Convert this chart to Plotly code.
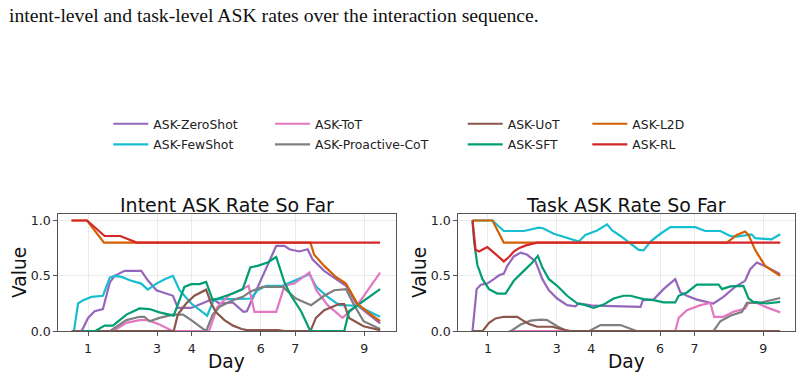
import plotly.graph_objects as go

W, H = 801, 379

# ---------------- data ----------------
names = ["ASK-ZeroShot", "ASK-FewShot", "ASK-ToT", "ASK-Proactive-CoT",
         "ASK-UoT", "ASK-SFT", "ASK-L2D", "ASK-RL"]
colors = ["#9467bd", "#17becf", "#e377c2", "#7f7f7f",
          "#8c564b", "#029e73", "#d55e00", "#d62728"]
legend_cols = ["legend", "legend", "legend2", "legend2",
               "legend3", "legend3", "legend4", "legend4"]

x_ticks = [1, 3, 4, 6, 7, 9]
y_ticks = [0.0, 0.5, 1.0]
y_ticktext = ["0.0", "0.5", "1.0"]

# Intent ASK rate so far
intent_zs_x = [0.81, 1.0, 1.19, 1.43, 1.63, 1.77, 2.06, 2.54, 2.73, 2.98, 3.46, 3.60, 3.99, 4.42, 4.61, 4.81,
               5.19, 5.50, 5.60, 6.45, 6.69, 6.83, 7.12, 7.36, 7.50, 7.84, 8.23, 8.47, 8.80, 9.46]
intent_zs_y = [0.0, 0.12, 0.18, 0.20, 0.44, 0.50, 0.545, 0.545, 0.46, 0.37, 0.32, 0.21, 0.21, 0.27, 0.29, 0.25,
               0.26, 0.175, 0.18, 0.77, 0.77, 0.74, 0.72, 0.74, 0.65, 0.545, 0.46, 0.41, 0.235, 0.07]
intent_fs_x = [0.59, 0.71, 0.86, 1.10, 1.43, 1.63, 1.77, 1.97, 2.21, 2.54, 2.73, 2.98, 3.22, 3.46, 3.65, 3.99,
               4.45, 4.65, 5.19, 5.72, 5.91, 6.16, 6.64, 6.97, 7.41, 7.61, 7.94, 8.28, 8.80, 9.46]
intent_fs_y = [0.0, 0.25, 0.28, 0.31, 0.32, 0.485, 0.50, 0.49, 0.46, 0.43, 0.375, 0.43, 0.47, 0.50, 0.37, 0.25,
               0.14, 0.29, 0.29, 0.295, 0.37, 0.41, 0.41, 0.455, 0.515, 0.40, 0.31, 0.235, 0.23, 0.13]
intent_tot_x = [1.72, 2.11, 2.49, 2.73, 3.07, 3.46, 4.50, 4.75, 5.10, 5.48, 5.65, 5.82, 6.45, 6.69, 6.97, 7.41,
                7.61, 7.94, 8.37, 8.80, 9.46]
intent_tot_y = [0.0, 0.075, 0.10, 0.10, 0.06, 0.0, 0.0, 0.22, 0.33, 0.38, 0.41, 0.175, 0.175, 0.41, 0.43, 0.53,
                0.37, 0.235, 0.12, 0.235, 0.53]
intent_pc_x = [1.63, 2.11, 2.49, 2.63, 2.78, 3.07, 3.46, 3.75, 4.03, 4.42, 4.61, 4.81, 5.19, 5.48, 5.72, 6.06,
               6.64, 7.02, 7.46, 7.84, 8.13, 8.47, 8.71, 8.98, 9.46]
intent_pc_y = [0.0, 0.10, 0.13, 0.13, 0.09, 0.12, 0.15, 0.15, 0.09, 0.0, 0.15, 0.22, 0.28, 0.31, 0.36, 0.40,
               0.40, 0.295, 0.235, 0.32, 0.37, 0.38, 0.235, 0.09, 0.02]
intent_uot_x = [0.52, 3.48, 3.60, 3.84, 4.08, 4.42, 4.55, 4.71, 4.95, 5.20, 5.45, 5.60, 6.50, 6.70, 7.44, 7.60,
                7.84, 8.27, 8.42, 8.56, 8.98, 9.46]
intent_uot_y = [0.0, 0.0, 0.15, 0.25, 0.32, 0.375, 0.26, 0.17, 0.10, 0.05, 0.02, 0.01, 0.01, 0.0, 0.0, 0.12,
                0.19, 0.245, 0.245, 0.12, 0.045, 0.01]
intent_sft_x = [0.85, 1.20, 1.48, 1.72, 2.11, 2.49, 2.78, 3.07, 3.48, 3.79, 3.99, 4.23, 4.42, 4.61, 4.81, 5.19,
                5.48, 5.70, 5.91, 6.20, 6.45, 6.69, 6.88, 7.17, 7.44, 8.42, 8.56, 8.80, 9.46]
intent_sft_y = [0.0, 0.0, 0.05, 0.05, 0.15, 0.205, 0.20, 0.17, 0.14, 0.40, 0.425, 0.425, 0.445, 0.28, 0.30, 0.34,
                0.38, 0.575, 0.59, 0.62, 0.67, 0.44, 0.32, 0.18, 0.0, 0.0, 0.18, 0.235, 0.38]
intent_l2d_x = [0.52, 0.97, 1.46, 7.44, 7.55, 7.84, 8.18, 8.47, 8.80, 9.09, 9.46]
intent_l2d_y = [1.0, 1.0, 0.80, 0.80, 0.69, 0.59, 0.49, 0.43, 0.25, 0.175, 0.09]
intent_rl_x = [0.52, 0.97, 1.48, 1.93, 2.41, 9.46]
intent_rl_y = [1.0, 1.0, 0.86, 0.86, 0.80, 0.80]

# Task ASK rate so far
task_zs_x = [0.55, 0.67, 0.79, 0.98, 1.17, 1.32, 1.46, 1.56, 1.75, 1.95, 2.14, 2.38, 2.58, 2.77, 3.01, 3.30,
             3.54, 3.64, 4.07, 5.43, 5.50, 5.81, 6.10, 6.44, 6.59, 6.78, 7.07, 7.55, 7.84, 8.18, 8.47, 8.62,
             8.81, 9.10, 9.49]
task_zs_y = [0.0, 0.38, 0.42, 0.43, 0.47, 0.505, 0.52, 0.59, 0.675, 0.71, 0.69, 0.63, 0.47, 0.37, 0.295, 0.235,
             0.225, 0.25, 0.23, 0.22, 0.28, 0.285, 0.38, 0.47, 0.35, 0.32, 0.285, 0.25, 0.31, 0.40, 0.455, 0.56,
             0.62, 0.58, 0.515]
task_fs_x = [0.55, 1.13, 1.46, 2.04, 2.48, 2.60, 2.91, 3.20, 3.49, 3.64, 3.83, 4.17, 4.46, 4.61, 4.85, 5.14,
             5.38, 5.52, 5.72, 6.01, 6.30, 7.02, 7.31, 7.75, 8.04, 8.23, 8.66, 8.76, 9.24, 9.49]
task_fs_y = [1.0, 1.0, 0.905, 0.905, 0.935, 0.93, 0.88, 0.85, 0.82, 0.81, 0.87, 0.91, 0.965, 0.91, 0.86, 0.79,
             0.735, 0.73, 0.81, 0.88, 0.94, 0.94, 0.905, 0.905, 0.86, 0.855, 0.875, 0.84, 0.83, 0.875]
task_tot_x = [1.60, 6.44, 6.54, 6.78, 7.17, 7.46, 7.57, 7.84, 8.13, 8.47, 8.57, 8.81, 9.10, 9.49]
task_tot_y = [0.0, 0.0, 0.12, 0.19, 0.235, 0.255, 0.13, 0.13, 0.175, 0.205, 0.255, 0.255, 0.215, 0.17]
task_pc_x = [1.66, 1.95, 2.24, 2.53, 2.72, 3.01, 3.30, 3.93, 4.27, 4.85, 5.33, 7.55, 7.75, 8.04, 8.38, 8.52,
             8.90, 9.19, 9.49]
task_pc_y = [0.0, 0.06, 0.095, 0.105, 0.10, 0.045, 0.0, 0.0, 0.055, 0.055, 0.0, 0.0, 0.09, 0.14, 0.175, 0.255,
             0.255, 0.28, 0.30]
task_uot_x = [0.55, 0.84, 1.03, 1.22, 1.46, 1.85, 2.00, 2.19, 2.43, 2.87, 3.11, 3.40, 9.49]
task_uot_y = [0.0, 0.0, 0.075, 0.115, 0.13, 0.13, 0.10, 0.065, 0.04, 0.04, 0.02, 0.0, 0.0]
task_sft_x = [0.55, 0.60, 0.69, 0.84, 1.03, 1.27, 1.51, 1.75, 2.04, 2.29, 2.45, 2.58, 2.77, 3.01, 3.30, 3.49,
              3.60, 3.83, 4.07, 4.36, 4.65, 4.94, 5.14, 5.52, 5.81, 6.10, 6.44, 6.54, 6.78, 7.07, 7.70, 7.80,
              8.04, 8.42, 8.57, 8.71, 9.10, 9.49]
task_sft_y = [1.0, 0.80, 0.60, 0.47, 0.38, 0.34, 0.34, 0.455, 0.545, 0.62, 0.68, 0.575, 0.47, 0.41, 0.32, 0.28,
              0.25, 0.235, 0.21, 0.24, 0.295, 0.32, 0.32, 0.29, 0.28, 0.26, 0.26, 0.32, 0.35, 0.42, 0.42, 0.38,
              0.405, 0.41, 0.295, 0.265, 0.25, 0.265]
task_l2d_x = [0.55, 1.13, 1.46, 7.94, 8.23, 8.47, 8.57, 8.76, 9.05, 9.49]
task_l2d_y = [1.0, 1.0, 0.80, 0.80, 0.87, 0.90, 0.87, 0.735, 0.59, 0.50]
task_rl_x = [0.55, 0.64, 0.74, 0.98, 1.17, 1.46, 1.61, 1.75, 1.90, 2.10, 2.43, 9.49]
task_rl_y = [1.0, 0.735, 0.72, 0.76, 0.71, 0.63, 0.67, 0.72, 0.75, 0.775, 0.80, 0.80]

intent_series = [(intent_zs_x, intent_zs_y), (intent_fs_x, intent_fs_y), (intent_tot_x, intent_tot_y),
                 (intent_pc_x, intent_pc_y), (intent_uot_x, intent_uot_y), (intent_sft_x, intent_sft_y),
                 (intent_l2d_x, intent_l2d_y), (intent_rl_x, intent_rl_y)]
task_series = [(task_zs_x, task_zs_y), (task_fs_x, task_fs_y), (task_tot_x, task_tot_y),
               (task_pc_x, task_pc_y), (task_uot_x, task_uot_y), (task_sft_x, task_sft_y),
               (task_l2d_x, task_l2d_y), (task_rl_x, task_rl_y)]

caption = "intent-level and task-level ASK rates over the interaction sequence."
titles = ["Intent ASK Rate So Far", "Task ASK Rate So Far"]

# ---------------- figure ----------------
def px(p):
    return p / W

def py(p):
    return 1 - p / H

FONT = "DejaVu Sans"
DY = 4.0  # vertical correction for the chart block (px)

fig = go.Figure()

for i, (xs, ys) in enumerate(intent_series):
    fig.add_trace(go.Scatter(x=xs, y=ys, mode="lines", name=names[i],
                             line=dict(color=colors[i], width=2.2),
                             legend=legend_cols[i], legendgroup=names[i],
                             xaxis="x", yaxis="y", showlegend=True))
for i, (xs, ys) in enumerate(task_series):
    fig.add_trace(go.Scatter(x=xs, y=ys, mode="lines", name=names[i],
                             line=dict(color=colors[i], width=2.2),
                             legend=legend_cols[i], legendgroup=names[i],
                             xaxis="x2", yaxis="y2", showlegend=False))

xdom1 = [px(57.7), px(396.0)]
xdom2 = [px(457.7), px(795.0)]
ydom = [py(333.3 + DY), py(214.0 + DY)]
xr = [0.12, 9.92]
yr = [0, 1.055]

axis_common = dict(showline=True, mirror=True, linecolor="#555", linewidth=1,
                   showgrid=True, gridcolor="#ebebeb", gridwidth=1, zeroline=False,
                   ticks="outside", ticklen=3.5, tickcolor="#555",
                   tickfont=dict(family=FONT, size=12.6, color="#222"))

fig.update_layout(
    width=W, height=H, margin=dict(l=0, r=0, t=0, b=0),
    paper_bgcolor="white", plot_bgcolor="white",
    xaxis=dict(domain=xdom1, range=xr, tickvals=x_ticks, anchor="y", ticklabelstandoff=2, **axis_common),
    yaxis=dict(domain=ydom, range=yr, tickvals=y_ticks, ticktext=y_ticktext, anchor="x", **axis_common),
    xaxis2=dict(domain=xdom2, range=xr, tickvals=x_ticks, anchor="y2", ticklabelstandoff=2, **axis_common),
    yaxis2=dict(domain=ydom, range=yr, tickvals=y_ticks, ticktext=y_ticktext, anchor="x2", **axis_common),
)

leg_common = dict(xanchor="left", yanchor="top", y=py(110.5), bgcolor="rgba(0,0,0,0)",
                  borderwidth=0, orientation="v", tracegroupgap=1.6, itemwidth=35,
                  font=dict(family=FONT, size=12.4, color="#222"))
fig.update_layout(
    legend=dict(x=px(108.3), **leg_common),
    legend2=dict(x=px(270.0), **leg_common),
    legend3=dict(x=px(462.7), **leg_common),
    legend4=dict(x=px(587.3), **leg_common),
)

ann = []
ann.append(dict(text=caption, x=px(6.5), y=py(14), xref="paper", yref="paper",
                xanchor="left", yanchor="middle", showarrow=False,
                font=dict(family="Liberation Serif", size=19.7, color="#111")))
for k, dom in enumerate([xdom1, xdom2]):
    cx = (dom[0] + dom[1]) / 2
    ann.append(dict(text=titles[k], x=cx, y=py(204.3 + DY), xref="paper", yref="paper",
                    xanchor="center", yanchor="middle", showarrow=False,
                    font=dict(family=FONT, size=19, color="#111")))
    ann.append(dict(text="Day", x=cx, y=py(364 + DY), xref="paper", yref="paper",
                    xanchor="center", yanchor="middle", showarrow=False,
                    font=dict(family=FONT, size=18.6, color="#111")))
    ann.append(dict(text="Value", x=dom[0] - px(37.5), y=py(273.6 + DY), xref="paper", yref="paper",
                    xanchor="center", yanchor="middle", showarrow=False, textangle=-90,
                    font=dict(family=FONT, size=18.6, color="#111")))
fig.update_layout(annotations=ann)

fig.write_html("out.html")
